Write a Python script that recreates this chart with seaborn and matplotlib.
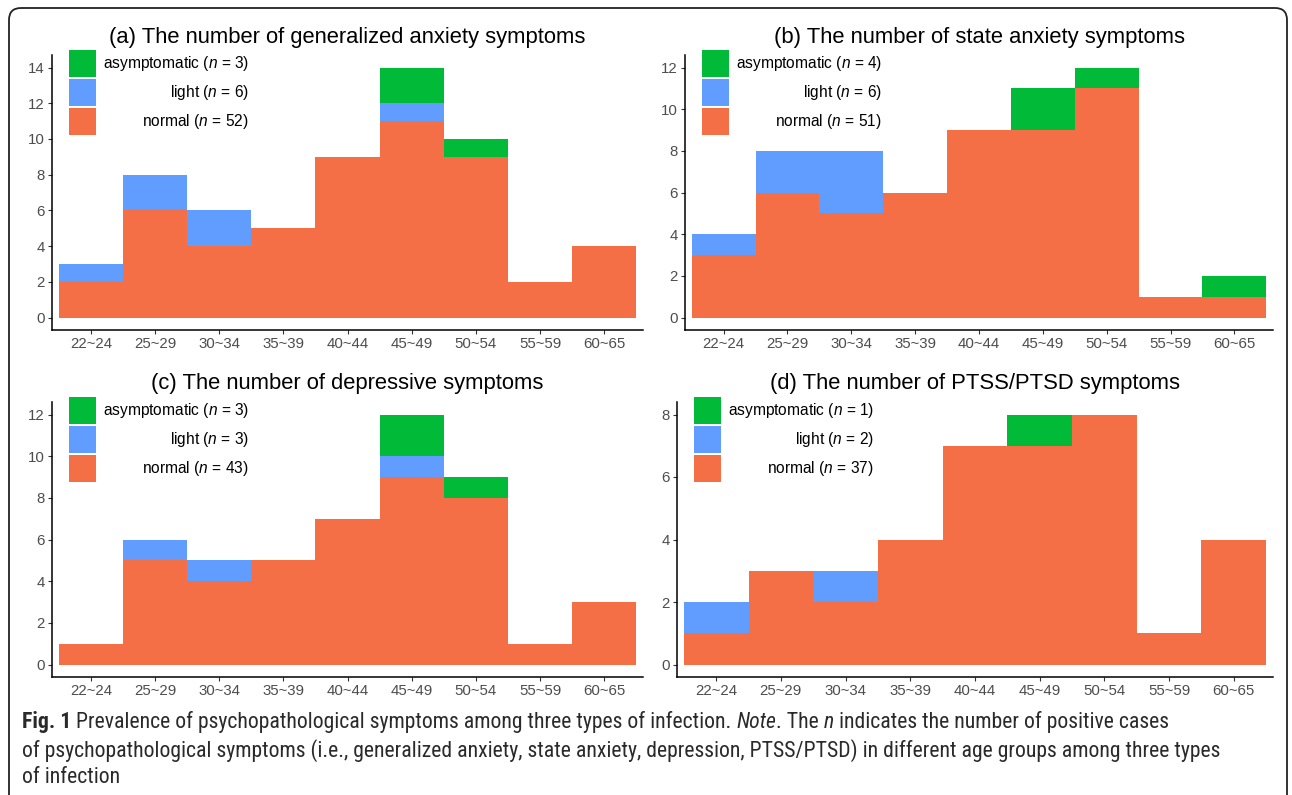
import numpy as np
import pandas as pd
import matplotlib
matplotlib.use("Agg")
import matplotlib.pyplot as plt
import matplotlib.transforms as mtransforms
from matplotlib.patches import Rectangle, FancyBboxPatch
from matplotlib import font_manager as fm
import seaborn as sns

# ---------------- data ----------------
age_groups = ["22~24", "25~29", "30~34", "35~39", "40~44", "45~49", "50~54", "55~59", "60~65"]
levels = ["asymptomatic", "light", "normal"]

ga_normal = [2, 6, 4, 5, 9, 11, 9, 2, 4]
ga_light = [1, 2, 2, 0, 0, 1, 0, 0, 0]
ga_asym = [0, 0, 0, 0, 0, 2, 1, 0, 0]

sa_normal = [3, 6, 5, 6, 9, 9, 11, 1, 1]
sa_light = [1, 2, 3, 0, 0, 0, 0, 0, 0]
sa_asym = [0, 0, 0, 0, 0, 2, 1, 0, 1]

dep_normal = [1, 5, 4, 5, 7, 9, 8, 1, 3]
dep_light = [0, 1, 1, 0, 0, 1, 0, 0, 0]
dep_asym = [0, 0, 0, 0, 0, 2, 1, 0, 0]

pt_normal = [1, 3, 2, 4, 7, 7, 8, 1, 4]
pt_light = [1, 0, 1, 0, 0, 0, 0, 0, 0]
pt_asym = [0, 0, 0, 0, 0, 1, 0, 0, 0]

titles = ["(a) The number of generalized anxiety symptoms",
          "(b) The number of state anxiety symptoms",
          "(c) The number of depressive symptoms",
          "(d) The number of PTSS/PTSD symptoms"]
y_max = [14, 12, 12, 8]

caption_lines = [
    [("Fig. 1", "bold"), (" Prevalence of psychopathological symptoms among three types of infection. ", "normal"),
     ("Note", "italic"), (". The ", "normal"), ("n", "italic"),
     (" indicates the number of positive cases", "normal")],
    [("of psychopathological symptoms (i.e., generalized anxiety, state anxiety, depression, PTSS/PTSD) in different age groups among three types", "normal")],
    [("of infection", "normal")],
]

palette = {"asymptomatic": "#00BA38", "light": "#619CFF", "normal": "#F46F45"}

# ---------------- style ----------------
sns.set_theme(style="ticks")
plt.rcParams["font.family"] = ["Liberation Sans", "DejaVu Sans"]
plt.rcParams["mathtext.fontset"] = "custom"
plt.rcParams["mathtext.it"] = "Liberation Sans:italic"
plt.rcParams["mathtext.rm"] = "Liberation Sans"

W, H = 1292, 795
fig = plt.figure(figsize=(W / 100, H / 100), dpi=100)
fig.patch.set_facecolor("white")
pix = mtransforms.Affine2D().scale(1 / W, -1 / H).translate(0, 1) + fig.transFigure

# axes boxes in pixels: left, top, right, bottom
boxes = [(52, 55, 643, 330), (685, 55, 1273, 330), (52, 402, 643, 677), (677, 402, 1273, 677)]

series = [(ga_normal, ga_light, ga_asym), (sa_normal, sa_light, sa_asym),
          (dep_normal, dep_light, dep_asym), (pt_normal, pt_light, pt_asym)]

for (normal, light, asym), title, ymax, (l, t, r, b) in zip(series, titles, y_max, boxes):
    ax = fig.add_axes([l / W, 1 - b / H, (r - l) / W, (b - t) / H])
    df = pd.DataFrame({
        "age": pd.Categorical(age_groups * 3, categories=age_groups, ordered=True),
        "level": ["asymptomatic"] * 9 + ["light"] * 9 + ["normal"] * 9,
        "count": list(asym) + list(light) + list(normal),
    })
    sns.histplot(data=df, x="age", hue="level", weights="count", hue_order=levels,
                 multiple="stack", discrete=True, shrink=1, palette=palette,
                 alpha=1, linewidth=0, legend=False, ax=ax)
    ax.set_xlim(-0.5 - 0.105, len(age_groups) - 0.5 + 0.105)
    ax.set_ylim(-0.05 * ymax, 1.05 * ymax)
    ax.set_xticks(range(len(age_groups)))
    ax.set_xticklabels(age_groups)
    ax.set_yticks(np.arange(0, ymax + 1, 2))
    ax.set_xlabel("")
    ax.set_ylabel("")
    ax.grid(False)
    for s in ["top", "right"]:
        ax.spines[s].set_visible(False)
    for s in ["left", "bottom"]:
        ax.spines[s].set_color("black")
        ax.spines[s].set_linewidth(1.1)
    ax.tick_params(axis="both", length=3.2, width=0.8, color="#333333",
                   labelcolor="#4D4D4D", labelsize=10.8, pad=2)
    ax.set_title(title, fontsize=15.8, color="black", pad=9)

    # legend
    kx, ky = l + 17, t - 5
    totals = {"asymptomatic": sum(asym), "light": sum(light), "normal": sum(normal)}
    for i, lvl in enumerate(levels):
        fig.add_artist(Rectangle((kx, ky + i * 29), 27, 27, transform=pix,
                                 facecolor=palette[lvl], edgecolor="none"))
        fig.text(kx + 180, ky + i * 29 + 13.5, f"{lvl} ($n$ = {totals[lvl]})",
                 transform=pix, ha="right", va="center", fontsize=11.2, color="black")

# ---------------- caption ----------------
def pick_font(cands):
    for c in cands:
        try:
            fm.findfont(fm.FontProperties(family=c), fallback_to_default=False)
            return c
        except Exception:
            continue
    return "DejaVu Sans"

cap_font = pick_font(["Liberation Sans Narrow", "Roboto Condensed", "Open Sans Condensed", "Liberation Sans"])
renderer = fig.canvas.get_renderer()

def seg_props(style):
    if style == "bold":
        return dict(fontweight="bold", fontstyle="normal")
    if style == "italic":
        return dict(fontweight="normal", fontstyle="italic")
    return dict(fontweight="normal", fontstyle="normal")

def draw_line(segs, x0, y, size, draw=True):
    x = x0
    objs = []
    for txt, style in segs:
        tt = fig.text(x, y, txt, transform=pix, ha="left", va="baseline",
                      fontsize=size, family=cap_font, color="#2a2a2a", **seg_props(style))
        w = tt.get_window_extent(renderer).width
        objs.append(tt)
        x += w
    if not draw:
        for o in objs:
            o.remove()
    return x - x0

base = 13
w2 = draw_line(caption_lines[1], 22, 760, base, draw=False)
size = base * 1195 / w2
for segs, yb in zip(caption_lines, [728, 757, 783]):
    draw_line(segs, 22, yb, size)

# frame
fig.add_artist(FancyBboxPatch((9, 8), 1278, 805, boxstyle="round,pad=0,rounding_size=12",
                              transform=pix, facecolor="none", edgecolor="#222222",
                              linewidth=1.3, clip_on=False))

fig.savefig("out.png", dpi=100, facecolor="white")
